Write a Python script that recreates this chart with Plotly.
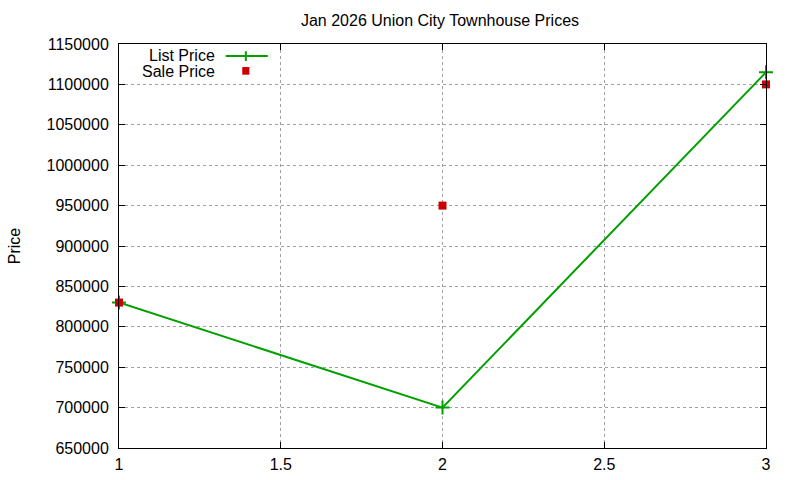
import plotly.graph_objects as go

x_vals = [1, 2, 3]
list_price = [830000, 700000, 1115000]
sale_price = [830000, 950000, 1100000]
y_ticks = list(range(650000, 1150001, 50000))
x_ticks = [1, 1.5, 2, 2.5, 3]

green = "#00a000"
red = "#cc0000"
font = "Liberation Sans, Arial, sans-serif"
fsize = 16

fig = go.Figure()

fig.add_trace(go.Scatter(
    x=x_vals, y=list_price, name="List Price",
    mode="lines+markers", cliponaxis=False,
    line=dict(color=green, width=2),
    marker=dict(symbol="cross-thin", size=10, line=dict(color=green, width=2)),
))

fig.add_trace(go.Scatter(
    x=x_vals, y=sale_price, name="Sale Price",
    mode="markers", cliponaxis=False,
    marker=dict(symbol="square", size=8, color=red),
))

axis_common = dict(
    showgrid=True, gridcolor="#a0a0a0", griddash="dot", gridwidth=1,
    showline=True, linecolor="black", linewidth=1, mirror="allticks",
    ticks="inside", ticklen=6, tickcolor="black",
    zeroline=False, automargin=False,
    tickfont=dict(family=font, size=fsize, color="black"),
)

fig.update_xaxes(range=[1, 3], tickvals=x_ticks,
                 ticktext=[str(v) for v in x_ticks],
                 ticklabelstandoff=2, **axis_common)
fig.update_yaxes(range=[650000, 1150000], tickvals=y_ticks,
                 ticktext=[str(v) for v in y_ticks],
                 ticklabelstandoff=6,
                 title=dict(text="Price", font=dict(family=font, size=fsize, color="black"),
                            standoff=21),
                 **axis_common)

# gnuplot style key, drawn by hand
fig.add_annotation(xref="paper", yref="paper", x=0.151, y=0.972, text="List Price",
                   showarrow=False, xanchor="right", yanchor="middle", height=15,
                   font=dict(family=font, size=fsize, color="black"))
fig.add_annotation(xref="paper", yref="paper", x=0.151, y=0.931, text="Sale Price",
                   showarrow=False, xanchor="right", yanchor="middle", height=15,
                   font=dict(family=font, size=fsize, color="black"))
fig.add_shape(type="line", xref="paper", yref="paper", x0=0.165, x1=0.230, y0=0.970, y1=0.970,
              line=dict(color=green, width=2))
fig.add_shape(type="line", xref="paper", yref="paper", x0=0.196, x1=0.196, y0=0.958, y1=0.982,
              line=dict(color=green, width=2))
fig.add_shape(type="rect", xref="paper", yref="paper", x0=0.1905, x1=0.2015, y0=0.924, y1=0.943,
              line=dict(width=0), fillcolor=red)

fig.update_layout(
    width=800, height=480,
    margin=dict(l=119, r=34, t=44, b=32),
    paper_bgcolor="white", plot_bgcolor="white",
    showlegend=False,
    title=dict(text="Jan 2026 Union City Townhouse Prices", x=0.55, xanchor="center",
               y=0.958, yanchor="middle",
               font=dict(family=font, size=fsize, color="black")),
)

# drop the default body margin so the figure sits at the window corner
fig.write_html("out.html", config={"displayModeBar": False},
               post_script="document.body.style.margin='0';")
